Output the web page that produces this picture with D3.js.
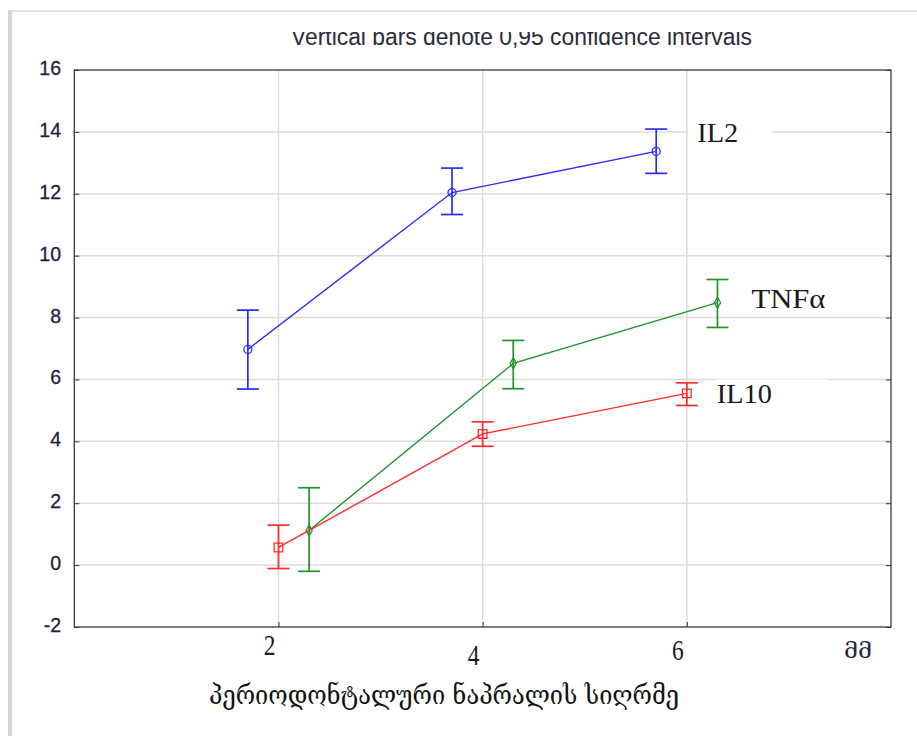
<!DOCTYPE html>
<html>
<head>
<meta charset="utf-8">
<script src="https://cdn.jsdelivr.net/npm/d3@7"></script>
<style>
  html, body { margin: 0; padding: 0; background: #fff; }
  svg { display: block; }
</style>
</head>
<body>
<svg id="chart" width="917" height="736"></svg>
<script>
/* ------------ Data ----------------*/
const seriesNames = ['IL2', 'TNFα', 'IL10'];
const seriesColors = ['#2b2bff', '#22922a', '#ff2a2a'];
const seriesSymbols = ['circle', 'diamond', 'square'];

const il2X = [1.7, 3.7, 5.7];
const il2Mean = [6.97, 12.04, 13.37];
const il2Low = [5.69, 11.33, 12.66];
const il2High = [8.24, 12.83, 14.09];

const tnfX = [2.3, 4.3, 6.3];
const tnfMean = [1.12, 6.52, 8.48];
const tnfLow = [-0.2, 5.7, 7.68];
const tnfHigh = [2.5, 7.26, 9.23];

const il10X = [2.0, 4.0, 6.0];
const il10Mean = [0.57, 4.24, 5.55];
const il10Low = [-0.11, 3.84, 5.16];
const il10High = [1.29, 4.63, 5.89];

const yTicks = [-2, 0, 2, 4, 6, 8, 10, 12, 14, 16];
const xTicks = [2, 4, 6];
const xTickLabels = ['2', '4', '6'];
const unitLabel = 'მმ';
const xTitle = 'პერიოდონტალური ნაპრალის სიღრმე';
const topNote = 'Vertical bars denote 0,95 confidence intervals';

/* ------------ Layout ----------------*/
const svg = d3.select('#chart');
const plotLeft = 74.3, plotRight = 891, plotTop = 70, plotBottom = 627;

const x = d3.scaleLinear().domain([0, 8]).range([plotLeft, plotRight]);
const y = d3.scaleLinear().domain([-2, 16]).range([plotBottom, plotTop]);

const series = seriesNames.map((name, k) => {
  const xs = [il2X, tnfX, il10X][k];
  const ms = [il2Mean, tnfMean, il10Mean][k];
  const lo = [il2Low, tnfLow, il10Low][k];
  const hi = [il2High, tnfHigh, il10High][k];
  return {
    name: name,
    color: seriesColors[k],
    symbol: seriesSymbols[k],
    points: xs.map((v, i) => ({ x: v, mean: ms[i], low: lo[i], high: hi[i] }))
  };
});

// page frame shadow (screenshot border)
svg.append('rect')
  .attr('x', 8).attr('y', 10)
  .attr('width', 909).attr('height', 2)
  .attr('fill', '#e4e4e4');
svg.append('rect')
  .attr('x', 8).attr('y', 10)
  .attr('width', 4).attr('height', 726)
  .attr('fill', '#d6d6d6');

// cropped top note
svg.append('clipPath').attr('id', 'noteClip')
  .append('rect')
  .attr('x', 0).attr('y', 32)
  .attr('width', 917).attr('height', 30);
svg.append('text')
  .attr('clip-path', 'url(#noteClip)')
  .attr('x', 291)
  .attr('y', 45)
  .attr('font-family', 'Liberation Sans, Arial, sans-serif')
  .attr('font-size', '23px')
  .attr('textLength', 461)
  .attr('lengthAdjust', 'spacingAndGlyphs')
  .attr('fill', '#2a2a3a')
  .text(topNote);

/* ------------ Grid ----------------*/
const grid = svg.append('g').attr('class', 'grid');
grid.selectAll('line.h')
  .data(yTicks.filter(d => d > -2 && d < 16))
  .join('line')
  .attr('class', 'h')
  .attr('x1', plotLeft).attr('x2', plotRight)
  .attr('y1', d => y(d)).attr('y2', d => y(d))
  .attr('stroke', '#dcdcdc')
  .attr('stroke-width', 1.5);
grid.selectAll('line.v')
  .data(xTicks)
  .join('line')
  .attr('class', 'v')
  .attr('x1', d => x(d)).attr('x2', d => x(d))
  .attr('y1', plotTop).attr('y2', plotBottom)
  .attr('stroke', '#dcdcdc')
  .attr('stroke-width', 1.5);

/* ------------ Axes ----------------*/
const yAxisLeft = d3.axisLeft(y).tickValues(yTicks).tickSize(-5).tickFormat('');
svg.append('g')
  .attr('transform', `translate(${plotLeft},0)`)
  .call(yAxisLeft)
  .call(g => g.select('.domain').remove())
  .call(g => g.selectAll('.tick line').attr('stroke', '#333'));

const yAxisRight = d3.axisRight(y).tickValues(yTicks).tickSize(-5).tickFormat('');
svg.append('g')
  .attr('transform', `translate(${plotRight},0)`)
  .call(yAxisRight)
  .call(g => g.select('.domain').remove())
  .call(g => g.selectAll('.tick line').attr('stroke', '#333'));

const xAxisBottom = d3.axisBottom(x).tickValues(xTicks).tickSize(-5).tickFormat('');
svg.append('g')
  .attr('transform', `translate(0,${plotBottom})`)
  .call(xAxisBottom)
  .call(g => g.select('.domain').remove())
  .call(g => g.selectAll('.tick line').attr('stroke', '#333'));

// y tick labels
svg.append('g').selectAll('text')
  .data(yTicks)
  .join('text')
  .attr('x', 61)
  .attr('y', d => y(d) + 5)
  .attr('text-anchor', 'end')
  .attr('font-family', 'Liberation Sans, Arial, sans-serif')
  .attr('font-size', '19.5px')
  .attr('fill', '#1e1e3c')
  .attr('stroke', '#1e1e3c')
  .attr('stroke-width', 0.3)
  .text(d => d);

// plot frame
svg.append('rect')
  .attr('x', plotLeft).attr('y', plotTop)
  .attr('width', plotRight - plotLeft).attr('height', plotBottom - plotTop)
  .attr('fill', 'none')
  .attr('stroke', '#3a3a3a')
  .attr('stroke-width', 1.3);

// x tick labels (pasted text boxes, slightly uneven)
const xLabelDy = [28, 38, 33];
svg.append('g').selectAll('text')
  .data(xTicks)
  .join('text')
  .attr('transform', (d, i) => `translate(${x(d) - 9},${plotBottom + xLabelDy[i]}) scale(0.9,1.15)`)
  .attr('text-anchor', 'middle')
  .attr('font-family', 'Liberation Serif, Times New Roman, serif')
  .attr('font-size', '26px')
  .attr('fill', '#1a1a1a')
  .text((d, i) => xTickLabels[i]);

svg.append('text')
  .attr('x', 844)
  .attr('y', 658)
  .attr('font-family', 'DejaVu Serif, DejaVu Sans, serif')
  .attr('font-size', '21px')
  .attr('textLength', 28)
  .attr('lengthAdjust', 'spacingAndGlyphs')
  .attr('fill', '#1e2a44')
  .text(unitLabel);

svg.append('text')
  .attr('x', 209)
  .attr('y', 704)
  .attr('font-family', 'DejaVu Serif, DejaVu Sans, serif')
  .attr('font-size', '27px')
  .attr('textLength', 470)
  .attr('lengthAdjust', 'spacingAndGlyphs')
  .attr('fill', '#111')
  .text(xTitle);

/* ------------ Series ----------------*/
const line = d3.line().x(d => x(d.x)).y(d => y(d.mean));
const capHalf = 11;

series.forEach(s => {
  const g = svg.append('g').attr('class', 'series');

  g.append('path')
    .datum(s.points)
    .attr('d', line)
    .attr('fill', 'none')
    .attr('stroke', s.color)
    .attr('stroke-width', 1.4);

  const bars = g.selectAll('g.bar')
    .data(s.points)
    .join('g')
    .attr('class', 'bar');
  bars.append('line')
    .attr('x1', d => x(d.x)).attr('x2', d => x(d.x))
    .attr('y1', d => y(d.low)).attr('y2', d => y(d.high))
    .attr('stroke', s.color).attr('stroke-width', 1.7);
  bars.append('line')
    .attr('x1', d => x(d.x) - capHalf).attr('x2', d => x(d.x) + capHalf)
    .attr('y1', d => y(d.low)).attr('y2', d => y(d.low))
    .attr('stroke', s.color).attr('stroke-width', 1.7);
  bars.append('line')
    .attr('x1', d => x(d.x) - capHalf).attr('x2', d => x(d.x) + capHalf)
    .attr('y1', d => y(d.high)).attr('y2', d => y(d.high))
    .attr('stroke', s.color).attr('stroke-width', 1.7);

  const symType = s.symbol === 'circle' ? d3.symbolCircle
    : s.symbol === 'diamond' ? d3.symbolDiamond : d3.symbolSquare;
  const symSize = s.symbol === 'circle' ? 50 : s.symbol === 'diamond' ? 34 : 75;
  g.selectAll('path.marker')
    .data(s.points)
    .join('path')
    .attr('class', 'marker')
    .attr('transform', d => `translate(${x(d.x)},${y(d.mean)})`)
    .attr('d', d3.symbol().type(symType).size(symSize))
    .attr('fill', 'none')
    .attr('stroke', s.color)
    .attr('stroke-width', 1.3);
});

/* ------------ Series labels (text boxes) ----------------*/
const labelDx = [41, 34, 30];
const labelDy = [-9, 5, 10];
const labelWidth = [41, 74, 55];
const boxLeft = [-9, 0, 0];
const boxWidth = [84, 0, 110];

series.forEach((s, k) => {
  const last = s.points[s.points.length - 1];
  const lx = x(last.x) + labelDx[k];
  const ly = y(last.mean) + labelDy[k];
  if (boxWidth[k] > 0) {
    svg.append('rect')
      .attr('x', lx + boxLeft[k])
      .attr('y', ly - 24)
      .attr('width', boxWidth[k])
      .attr('height', 30)
      .attr('fill', '#fff');
  }
  svg.append('text')
    .attr('x', lx)
    .attr('y', ly)
    .attr('font-family', 'Liberation Serif, Times New Roman, serif')
    .attr('font-size', '28px')
    .attr('textLength', labelWidth[k])
    .attr('lengthAdjust', 'spacingAndGlyphs')
    .attr('fill', '#1a1a1a')
    .text(s.name);
});
</script>
</body>
</html>
